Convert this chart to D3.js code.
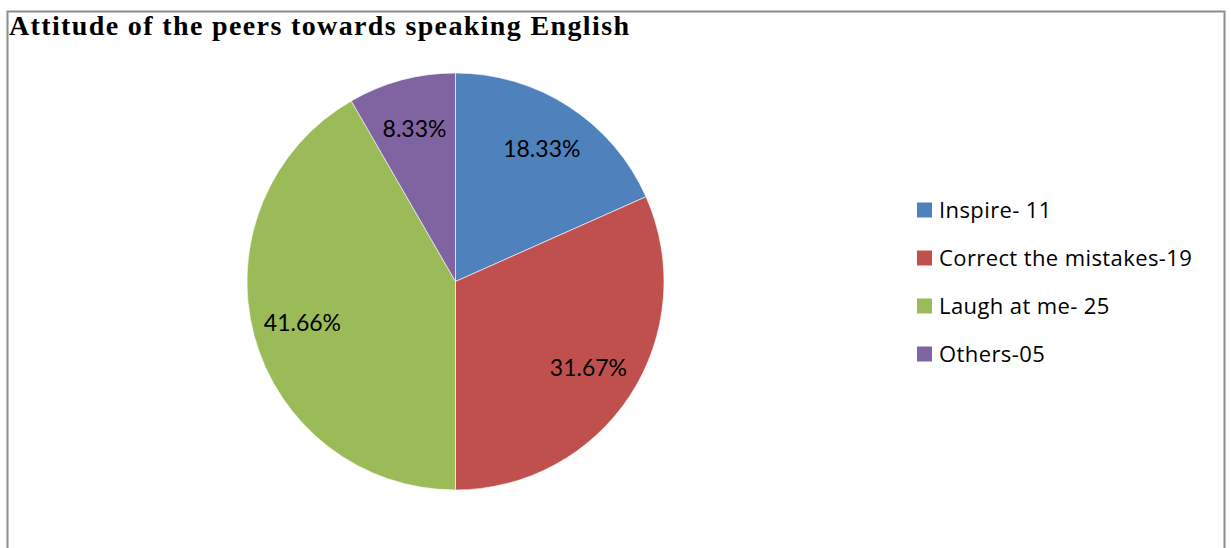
<!DOCTYPE html>
<html>
<head>
<meta charset="utf-8">
<script src="https://cdn.jsdelivr.net/npm/d3@7"></script>
<style>
  html, body { margin: 0; padding: 0; background: #fff; }
  svg { display: block; }
</style>
</head>
<body>
<svg id="chart" width="1231" height="548"></svg>
<script>
const title = "Attitude of the peers towards speaking English";
const categories = ["Inspire- 11", "Correct the mistakes-19", "Laugh at me- 25", "Others-05"];
const values = [11, 19, 25, 5];
const percentLabels = ["18.33%", "31.67%", "41.66%", "8.33%"];
const colors = ["#4F81BD", "#C0504D", "#9BBB59", "#8064A2"];

const W = 1231, H = 548;
const svg = d3.select("#chart");

// frame
svg.append("rect")
  .attr("x", 7.5).attr("y", 11.5)
  .attr("width", 1217).attr("height", 560)
  .attr("fill", "#fff")
  .attr("stroke", "#8c8c8c").attr("stroke-width", 2);

svg.append("text")
  .attr("x", 9).attr("y", 35)
  .attr("font-family", "'Liberation Serif', 'Times New Roman', serif")
  .attr("font-weight", "bold")
  .attr("font-size", 28)
  .attr("textLength", 620)
  .attr("lengthAdjust", "spacing")
  .attr("fill", "#000")
  .text(title);

const cx = 455.5, cy = 281.5, r = 208.5;
const data = categories.map((c, i) => ({ name: c, value: values[i], label: percentLabels[i], color: colors[i] }));

const pie = d3.pie().value(d => d.value).sort(null);
const arcs = pie(data);
const arc = d3.arc().innerRadius(0).outerRadius(r);
const labelArc = d3.arc().innerRadius(r * 0.76).outerRadius(r * 0.76);

const g = svg.append("g").attr("transform", `translate(${cx},${cy})`);
g.selectAll("path.slice")
  .data(arcs)
  .join("path")
  .attr("class", "slice")
  .attr("d", arc)
  .attr("fill", d => d.data.color)
  .attr("stroke", "#ffffff")
  .attr("stroke-opacity", 0.6)
  .attr("stroke-width", 1);

g.selectAll("text.pl")
  .data(arcs)
  .join("text")
  .attr("class", "pl")
  .attr("transform", d => {
    const [x, y] = labelArc.centroid(d);
    return `translate(${x},${y})`;
  })
  .attr("text-anchor", "middle")
  .attr("dy", "0.35em")
  .attr("font-family", "Lato, 'Noto Sans', sans-serif")
  .attr("font-size", 23)
  .attr("fill", "#000")
  .text(d => d.data.label);

// legend
const legend = svg.append("g").attr("transform", "translate(917,210)");
const rows = legend.selectAll("g.row")
  .data(data)
  .join("g")
  .attr("class", "row")
  .attr("transform", (d, i) => `translate(0,${i * 48})`);
rows.append("rect")
  .attr("x", 0).attr("y", -7.5)
  .attr("width", 15).attr("height", 15)
  .attr("fill", d => d.color);
rows.append("text")
  .attr("x", 22).attr("y", 0)
  .attr("dy", "0.35em")
  .attr("font-family", "'Open Sans', Lato, sans-serif")
  .attr("font-size", 22)
  .attr("letter-spacing", 0.4)
  .attr("fill", "#000")
  .text(d => d.name);
</script>
</body>
</html>
